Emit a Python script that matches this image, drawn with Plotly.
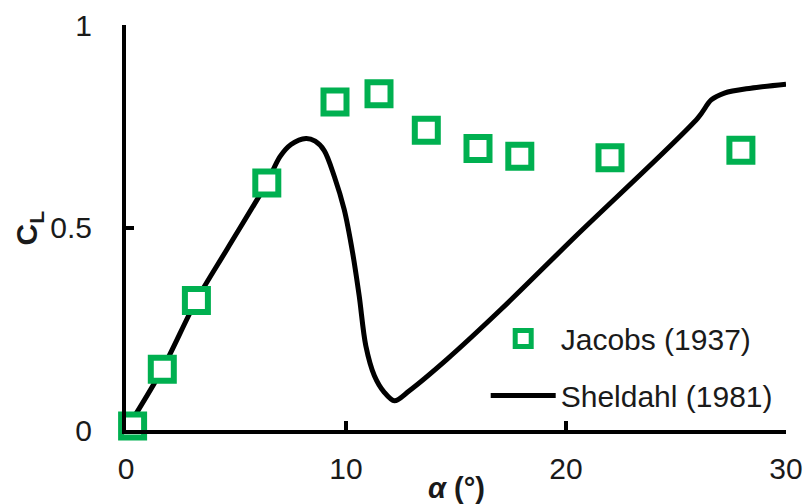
import plotly.graph_objects as go

# Jacobs (1937) experimental points
jacobs_alpha = [0.3, 1.65, 3.2, 6.4, 9.5, 11.5, 13.65, 16.0, 17.9, 22.0, 27.95]
jacobs_cl = [0.01, 0.15, 0.32, 0.61, 0.81, 0.83, 0.74, 0.695, 0.676, 0.672, 0.691]

# Sheldahl (1981) curve
sheldahl_alpha = [0, 1.65, 3.2, 4.6, 6.4, 7.0, 7.5, 8.18, 8.6, 9.01, 9.47, 9.92, 10.3,
                  10.6, 10.9, 11.29, 11.74, 12.2, 12.88, 14.6, 17.05, 20.45,
                  25.99, 26.6, 27.2, 28.4, 30]
sheldahl_cl = [0, 0.15, 0.32, 0.447, 0.61, 0.675, 0.705, 0.72, 0.713, 0.69, 0.626, 0.544,
               0.438, 0.331, 0.208, 0.134, 0.093, 0.072, 0.097, 0.175, 0.298, 0.479,
               0.77, 0.815, 0.832, 0.844, 0.854]

x_ticks = [0, 10, 20, 30]
y_ticks = [0, 0.5, 1]
y_tick_labels = ["0", "0.5", "1"]

FONT = "Liberation Sans, Arial, sans-serif"
GREEN = "#00B050"
TXT = "#1a1a1a"

fig = go.Figure()
fig.add_trace(go.Scatter(
    x=sheldahl_alpha, y=sheldahl_cl, mode="lines", name="Sheldahl (1981)",
    line=dict(color="black", width=5, shape="spline", smoothing=0.9),
    legendgroup="s", legendrank=2,
))
fig.add_trace(go.Scatter(
    x=jacobs_alpha, y=jacobs_cl, mode="markers", name="Jacobs (1937)",
    marker=dict(symbol="square", size=23, color="white",
                line=dict(color=GREEN, width=6)),
    cliponaxis=False, legendgroup="j", legendrank=1,
))

fig.update_layout(
    width=806, height=504,
    margin=dict(l=126, r=20, t=25, b=74),
    paper_bgcolor="white", plot_bgcolor="white",
    font=dict(family=FONT, size=30, color=TXT),
    showlegend=True,
    legend=dict(x=0.545, y=0.29, xanchor="left", yanchor="top",
                bgcolor="rgba(0,0,0,0)", itemwidth=65, tracegroupgap=15,
                font=dict(family=FONT, size=30, color=TXT)),
    annotations=[
        dict(text="<b>C<sub>L</sub></b>", xref="paper", yref="paper",
             x=-0.147, y=0.5, xanchor="center", yanchor="middle",
             textangle=-90, showarrow=False,
             font=dict(family=FONT, size=30, color=TXT)),
        dict(text="<b><i>α</i> (°)</b>", xref="paper", yref="paper",
             x=0.5, y=-0.142, xanchor="center", yanchor="middle",
             showarrow=False, font=dict(family=FONT, size=29, color=TXT)),
    ],
)
fig.update_xaxes(range=[0, 30], tickvals=x_ticks, showgrid=False, zeroline=False,
                 showline=True, linecolor="black", linewidth=4, automargin=False,
                 ticks="inside", ticklen=9, tickwidth=4, tickcolor="black",
                 ticklabelstandoff=9, tickfont=dict(family=FONT, size=30, color=TXT))
fig.update_yaxes(range=[0, 1], tickvals=y_ticks, ticktext=y_tick_labels,
                 showgrid=False, zeroline=False, automargin=False,
                 showline=True, linecolor="black", linewidth=4,
                 ticks="inside", ticklen=8, tickwidth=4, tickcolor="black",
                 ticklabelstandoff=24, tickfont=dict(family=FONT, size=30, color=TXT))

fig.write_html("out.html", config={"displayModeBar": False},
               post_script="document.body.style.margin='0';document.body.style.overflow='hidden';")
